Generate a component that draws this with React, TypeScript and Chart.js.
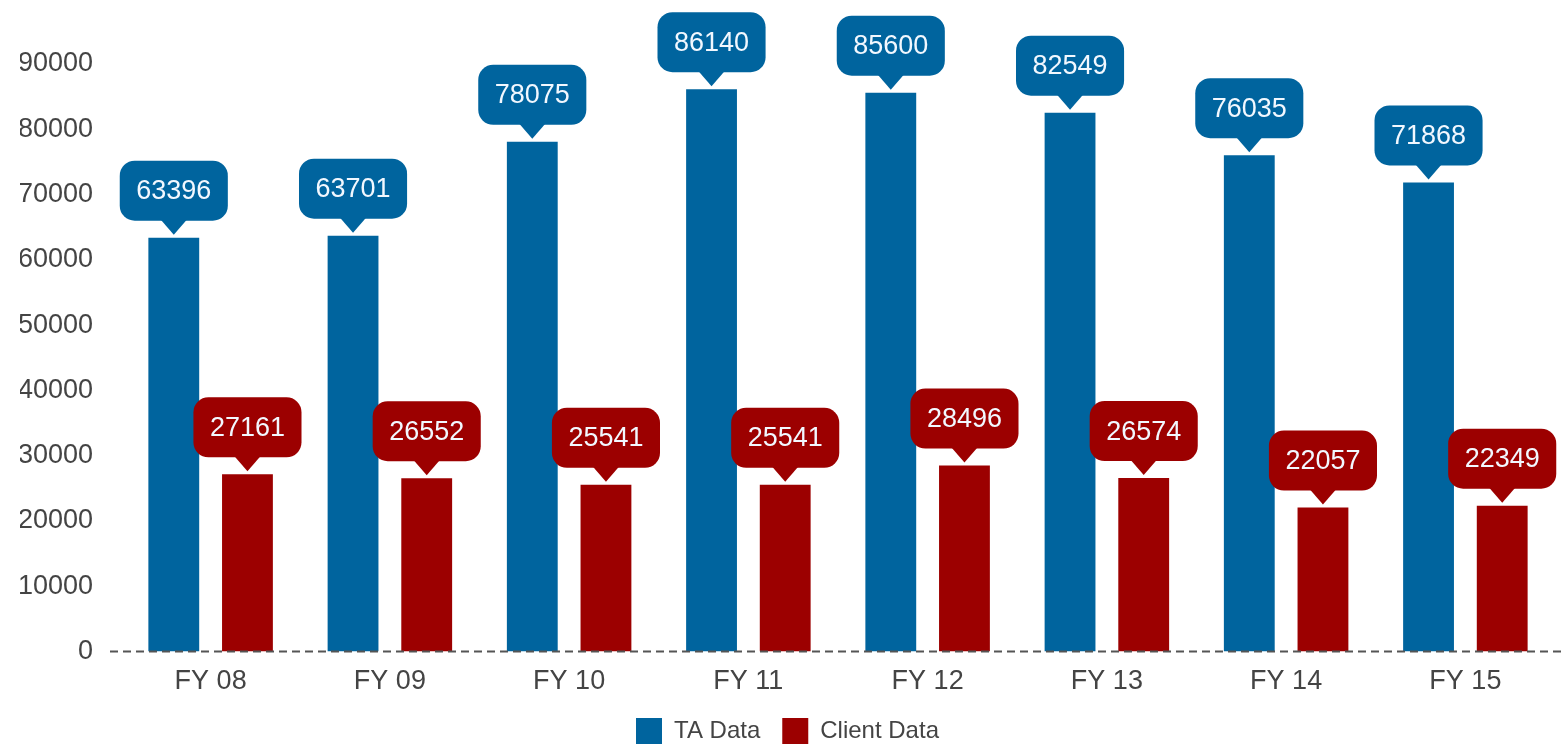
import React, { useEffect, useRef } from "react";
import { Chart, registerables } from "chart.js";

Chart.register(...registerables);

const categories = ["FY 08", "FY 09", "FY 10", "FY 11", "FY 12", "FY 13", "FY 14", "FY 15"];
const taData = [63396, 63701, 78075, 86140, 85600, 82549, 76035, 71868];
const clientData = [27161, 26552, 25541, 25541, 28496, 26574, 22057, 22349];
const yTicks = [0, 10000, 20000, 30000, 40000, 50000, 60000, 70000, 80000, 90000];

const BLUE = "#00649e";
const RED = "#9c0000";
const FONT = "'Liberation Sans', Arial, sans-serif";

const calloutPlugin = {
  id: "callouts",
  afterDatasetsDraw(chart: any) {
    const ctx = chart.ctx;
    ctx.save();
    ctx.font = `27px ${FONT}`;
    ctx.textAlign = "center";
    ctx.textBaseline = "middle";
    chart.data.datasets.forEach((ds: any, di: number) => {
      const meta = chart.getDatasetMeta(di);
      meta.data.forEach((el: any, i: number) => {
        const v = ds.data[i];
        const text = String(v);
        const tw = ctx.measureText(text).width;
        const w = tw + 33;
        const h = 60;
        const tipY = el.y - 3;
        const triH = 14;
        const triW = 26;
        const boxBottom = tipY - triH;
        const boxTop = boxBottom - h;
        const x = el.x;
        const r = 15;
        ctx.fillStyle = ds.backgroundColor;
        ctx.beginPath();
        ctx.roundRect(x - w / 2, boxTop, w, h, r);
        ctx.fill();
        ctx.beginPath();
        ctx.moveTo(x - triW / 2, boxBottom - 1);
        ctx.lineTo(x + triW / 2, boxBottom - 1);
        ctx.lineTo(x, tipY);
        ctx.closePath();
        ctx.fill();
        ctx.fillStyle = "#f2f8ff";
        ctx.fillText(text, x, boxTop + h / 2 + 1);
      });
    });
    ctx.restore();
  },
};

const zeroLinePlugin = {
  id: "zeroLine",
  afterDatasetsDraw(chart: any) {
    const ctx = chart.ctx;
    const y = chart.scales.y.getPixelForValue(0);
    ctx.save();
    ctx.strokeStyle = "#555";
    ctx.lineWidth = 2;
    ctx.setLineDash([8, 5]);
    ctx.beginPath();
    ctx.moveTo(110, y);
    ctx.lineTo(chart.width, y);
    ctx.stroke();
    ctx.restore();
  },
};

export default function App() {
  const ref = useRef<HTMLCanvasElement | null>(null);
  useEffect(() => {
    if (!ref.current) return;
    const chart = new Chart(ref.current, {
      type: "bar",
      data: {
        labels: categories,
        datasets: [
          { label: "TA Data", data: taData, backgroundColor: BLUE, borderWidth: 0 },
          { label: "Client Data", data: clientData, backgroundColor: RED, borderWidth: 0 },
        ],
      },
      options: {
        animation: false,
        responsive: true,
        maintainAspectRatio: false,
        categoryPercentage: 0.822,
        barPercentage: 0.69,
        layout: { padding: { left: 20, right: 9, top: 64, bottom: 0 } },
        plugins: {
          legend: {
            position: "bottom",
            labels: {
              font: { family: FONT, size: 24 },
              color: "#444",
              boxWidth: 26,
              boxHeight: 26,
              padding: 22,
            },
          },
          tooltip: { enabled: false },
        },
        scales: {
          x: {
            grid: { display: false, drawTicks: false },
            border: { display: false },
            ticks: { font: { family: FONT, size: 27 }, color: "#444", padding: 14 },
            afterFit: (scale: any) => {
              scale.height -= 16;
            },
          },
          y: {
            min: 0,
            max: 90000,
            grid: { display: false, drawTicks: false },
            border: { display: false },
            afterBuildTicks: (scale: any) => {
              scale.ticks = yTicks.map((v) => ({ value: v }));
            },
            afterFit: (scale: any) => {
              scale.width = 101;
            },
            ticks: {
              font: { family: FONT, size: 27 },
              color: "#444",
              padding: 28,
              callback: (v: any) => String(v),
            },
          },
        },
      },
      plugins: [zeroLinePlugin, calloutPlugin],
    });
    return () => chart.destroy();
  }, []);
  return (
    <div style={{ position: "fixed", left: 0, top: 0, width: 1564, height: 744, overflow: "hidden", background: "#fff" }}>
      <div style={{ position: "relative", width: 1564, height: 754 }}>
        <canvas ref={ref} />
      </div>
    </div>
  );
}
